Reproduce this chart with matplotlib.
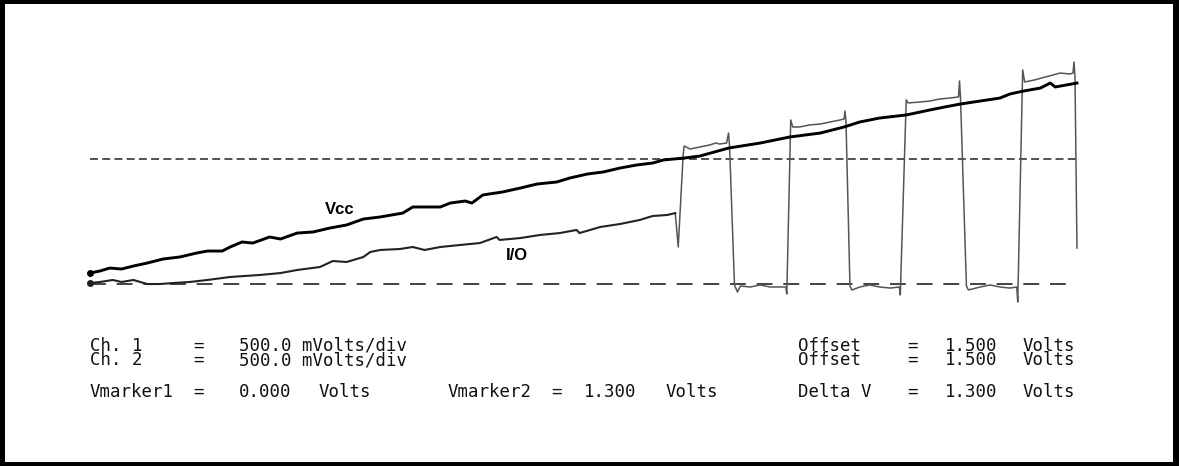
import matplotlib
matplotlib.use("Agg")
from matplotlib import pyplot as plt

# tiempo en divisiones (0..10), tension en volts
vcc_t = [0.00, 0.10, 0.20, 0.32, 0.44, 0.58, 0.74, 0.91, 1.08, 1.19, 1.34, 1.42, 1.54, 1.65,
         1.82, 1.93, 2.10, 2.26, 2.43, 2.60, 2.77, 2.94, 3.17, 3.27, 3.55, 3.65, 3.80, 3.87,
         3.98, 4.18, 4.36, 4.53, 4.73, 4.86, 5.04, 5.20, 5.37, 5.54, 5.70, 5.81, 6.02, 6.18,
         6.47, 6.79, 7.09, 7.40, 7.64, 7.80, 8.00, 8.27, 8.51, 8.66, 8.82, 9.02, 9.22, 9.32,
         9.46, 9.63, 9.73, 9.78, 10.00]
vcc_v = [0.114, 0.135, 0.166, 0.156, 0.187, 0.218, 0.260, 0.281, 0.322, 0.343, 0.343, 0.385,
         0.437, 0.426, 0.489, 0.468, 0.530, 0.541, 0.582, 0.614, 0.676, 0.697, 0.738, 0.801,
         0.801, 0.842, 0.863, 0.842, 0.926, 0.957, 0.998, 1.040, 1.061, 1.102, 1.144, 1.165,
         1.206, 1.238, 1.258, 1.290, 1.310, 1.331, 1.414, 1.466, 1.529, 1.570, 1.633, 1.685,
         1.726, 1.758, 1.810, 1.841, 1.872, 1.903, 1.934, 1.976, 2.007, 2.038, 2.090, 2.049,
         2.090]

io_t = [0.00, 0.10, 0.23, 0.32, 0.44, 0.58, 0.71, 0.84, 1.01, 1.19, 1.42, 1.72, 1.93, 2.10,
        2.33, 2.46, 2.60, 2.77, 2.84, 2.94, 3.14, 3.27, 3.39, 3.55, 3.75, 3.95, 4.12, 4.15,
        4.36, 4.56, 4.76, 4.93, 4.96, 5.17, 5.37, 5.57, 5.70, 5.85, 5.93,
        5.96, 6.01,
        6.02, 6.08, 6.18, 6.28, 6.34, 6.38, 6.45, 6.47, 6.48,
        6.53, 6.56, 6.59, 6.69, 6.79, 6.89, 6.99, 7.05, 7.06,
        7.10, 7.12, 7.19, 7.29, 7.40, 7.50, 7.60, 7.64, 7.65, 7.66,
        7.70, 7.72, 7.80, 7.90, 8.00, 8.11, 8.20, 8.21,
        8.27, 8.29, 8.41, 8.51, 8.61, 8.71, 8.80, 8.81, 8.82,
        8.88, 8.90, 9.02, 9.12, 9.22, 9.32, 9.39, 9.40,
        9.45, 9.47, 9.57, 9.68, 9.83, 9.93, 9.96, 9.97, 9.98,
        10.00]
io_v = [0.010, 0.021, 0.042, 0.021, 0.042, 0.000, 0.000, 0.010, 0.021, 0.042, 0.073, 0.094,
        0.114, 0.146, 0.177, 0.239, 0.229, 0.281, 0.333, 0.354, 0.364, 0.385, 0.354, 0.385,
        0.406, 0.426, 0.489, 0.458, 0.478, 0.510, 0.530, 0.562, 0.530, 0.593, 0.624, 0.666,
        0.707, 0.718, 0.738,
        0.385, 1.342,
        1.435, 1.404, 1.425, 1.446, 1.466, 1.456, 1.466, 1.570, 1.435,
        -0.010, -0.083, -0.021, -0.031, -0.010, -0.031, -0.031, -0.031, -0.104,
        1.706, 1.633, 1.633, 1.654, 1.664, 1.685, 1.706, 1.716, 1.799, 1.680,
        -0.021, -0.062, -0.031, -0.010, -0.031, -0.042, -0.031, -0.114,
        1.914, 1.883, 1.893, 1.903, 1.924, 1.934, 1.945, 2.111, 1.935,
        -0.021, -0.062, -0.031, -0.010, -0.031, -0.042, -0.031, -0.187,
        2.226, 2.101, 2.122, 2.153, 2.194, 2.184, 2.194, 2.309, 2.150,
        0.374]
io_ramp = 39  # hasta aqui la rampa, despues la onda cuadrada

vmarker1 = 0.0
vmarker2 = 1.3
marker_t = [0.0, 10.0]
marker1_end = 9.93

channels = ["Ch. 1", "Ch. 2"]
scales = ["500.0", "500.0"]
offsets = ["1.500", "1.500"]
delta_v = vmarker2 - vmarker1

W, H = 1179, 466
fig = plt.figure(figsize=(W / 100, H / 100), dpi=100, facecolor="black")
ax = fig.add_axes([5 / W, 4 / H, 1168 / W, 458 / H])
ax.set_facecolor("white")
ax.set_xlim(-0.861, 10.973)
ax.set_ylim(-1.851, 2.912)
ax.set_xticks([])
ax.set_yticks([])
for s in ax.spines.values():
    s.set_visible(False)

# marcadores
ax.plot(marker_t, [vmarker2, vmarker2], color="#222222", lw=1.1, dashes=[5.2, 2.8])
ax.plot([marker_t[0], marker1_end], [vmarker1, vmarker1], color="#222222", lw=1.2,
        dashes=[9.5, 6.5])

# trazas
ax.plot(io_t[io_ramp - 1:], io_v[io_ramp - 1:], color="#555555", lw=1.1)
ax.plot(io_t[:io_ramp], io_v[:io_ramp], color="#222222", lw=1.5)
ax.plot(vcc_t, vcc_v, color="black", lw=2.1)
ax.plot(vcc_t[0], vcc_v[0], "o", color="black", ms=4)
ax.plot(io_t[0], io_v[0], "o", color="#222222", ms=4)

lab = dict(family="Liberation Sans", fontsize=12, fontweight="bold", ha="center", va="center")
fig.text(340 / W, 1 - 209 / H, "Vcc", **lab)
fig.text(517 / W, 1 - 255 / H, "I/O", **lab)


def px(x, y, s, ha="left"):
    fig.text(x / W, 1 - y / H, s, family="DejaVu Sans Mono", fontsize=12.5,
             ha=ha, va="center", color="#111111", linespacing=0.72)


# las dos lineas de canal van juntas en un solo texto (casi se tocan)
y = 353
px(90, y, "\n".join(channels))
px(198, y, "=\n=", "center")
px(239, y, "\n".join(s + " mVolts/div" for s in scales))
px(798, y, "Offset\nOffset")
px(912, y, "=\n=", "center")
px(945, y, "\n".join(offsets))
px(1023, y, "Volts\nVolts")

y = 392
px(90, y, "Vmarker1")
px(198, y, "=", "center")
px(239, y, "%.3f" % vmarker1)
px(319, y, "Volts")
px(448, y, "Vmarker2")
px(556, y, "=", "center")
px(584, y, "%.3f" % vmarker2)
px(666, y, "Volts")
px(798, y, "Delta V")
px(912, y, "=", "center")
px(945, y, "%.3f" % delta_v)
px(1023, y, "Volts")

fig.savefig("out.png", dpi=100, facecolor="black")
